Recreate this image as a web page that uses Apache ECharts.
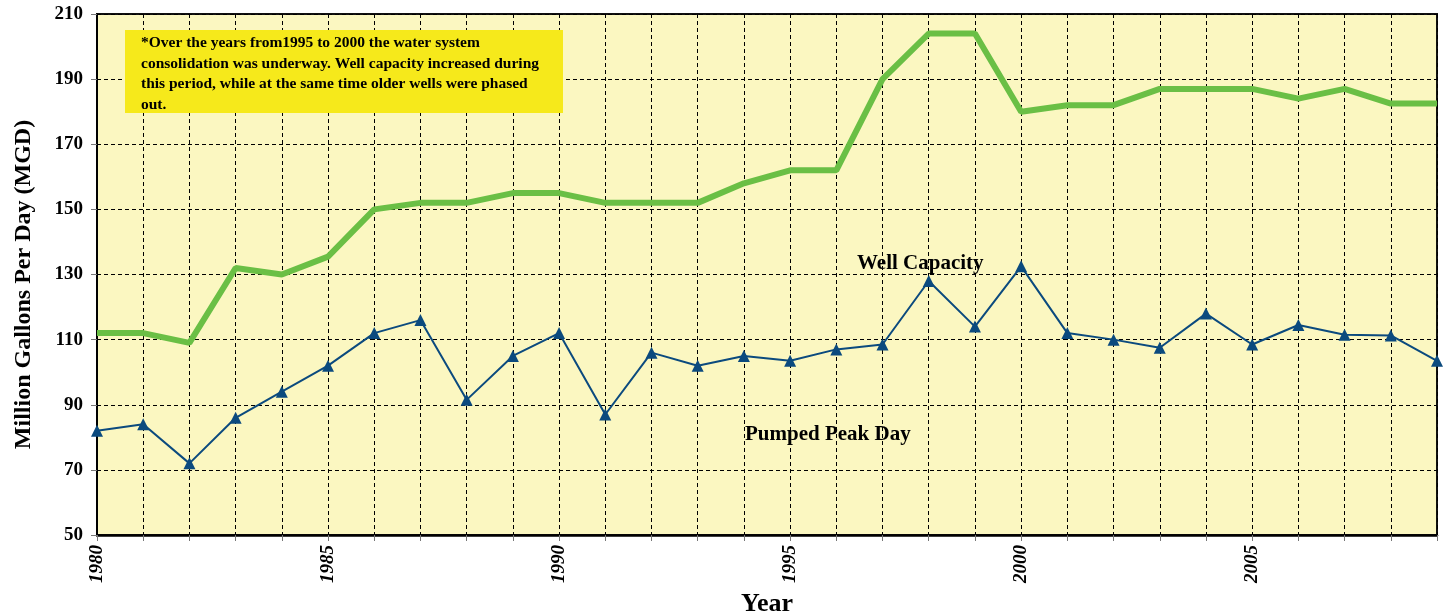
<!DOCTYPE html>
<html>
<head>
    <meta charset="utf-8">
    <title>Well Capacity vs Pumped Peak Day</title>
    <script src="https://cdn.jsdelivr.net/npm/echarts@6/dist/echarts.min.js"></script>
    <style>
        html, body { margin: 0; padding: 0; background: #fff; }
    </style>
</head>
<body>
    <div id="main" style="width: 1445px;height:615px;"></div>
    <script type="text/javascript">
        // data
        var years = ['1980','1981','1982','1983','1984','1985','1986','1987','1988','1989',
                     '1990','1991','1992','1993','1994','1995','1996','1997','1998','1999',
                     '2000','2001','2002','2003','2004','2005','2006','2007','2008','2009'];
        var wellCapacity = [112, 112, 109, 132, 130, 135.5, 150, 152, 152, 155,
                            155, 152, 152, 152, 158, 162, 162, 190, 204, 204,
                            180, 182, 182, 187, 187, 187, 184, 187, 182.5, 182.5];
        var pumpedPeakDay = [82, 84, 72, 86, 94, 102, 112, 116, 91.5, 105,
                             112, 87, 106, 102, 105, 103.5, 107, 108.5, 128, 114,
                             132.5, 112, 110, 107.5, 118, 108.5, 114.5, 111.5, 111.3, 103.5];
        var yTicks = [50, 70, 90, 110, 130, 150, 170, 190, 210];

        var noteLines = [
            '*Over the years from1995 to 2000 the water system',
            'consolidation was underway. Well capacity increased during',
            'this period, while at the same time older wells were phased',
            'out.'
        ];

        var serif = '"Liberation Serif", "DejaVu Serif", serif';
        var dash = { color: '#000', width: 1, type: [4, 3] };

        var myChart = echarts.init(document.getElementById('main'));

        var option = {
            animation: false,
            grid: {
                left: 97, right: 8, top: 14, bottom: 80,
                outerBoundsMode: 'none',
                containLabel: false,
                show: true,
                backgroundColor: '#FBF7C1',
                borderColor: '#111',
                borderWidth: 2
            },
            xAxis: {
                type: 'category',
                data: years,
                boundaryGap: false,
                name: 'Year',
                nameLocation: 'middle',
                nameGap: 50,
                nameTextStyle: { fontFamily: serif, fontWeight: 'bold', fontSize: 26, color: '#000' },
                axisLine: { lineStyle: { color: '#000', width: 2.5 } },
                axisTick: { interval: 0, length: 6, lineStyle: { color: '#777' } },
                axisLabel: {
                    rotate: 90,
                    margin: 10,
                    interval: function (index) { return index % 5 === 0; },
                    fontFamily: serif, fontWeight: 'bold', fontStyle: 'italic',
                    fontSize: 19, color: '#000'
                },
                splitLine: { show: true, interval: 0, lineStyle: dash }
            },
            yAxis: {
                type: 'value',
                min: yTicks[0],
                max: yTicks[yTicks.length - 1],
                interval: 20,
                name: 'Million Gallons Per Day (MGD)',
                nameLocation: 'middle',
                nameGap: 61,
                nameTextStyle: {
                    fontFamily: serif, fontWeight: 'bold', fontSize: 24, color: '#000',
                    padding: [0, 20, 0, 0]
                },
                axisLine: { show: true, lineStyle: { color: '#000', width: 2 } },
                axisTick: { show: true, length: 6, lineStyle: { color: '#777' } },
                axisLabel: { margin: 14, fontFamily: serif, fontWeight: 'bold', fontSize: 19, color: '#000' },
                splitLine: { show: true, lineStyle: dash }
            },
            series: [
                {
                    name: 'Well Capacity',
                    type: 'line',
                    data: wellCapacity,
                    showSymbol: false,
                    symbol: 'none',
                    lineStyle: { color: '#6ABF45', width: 6 },
                    z: 3
                },
                {
                    name: 'Pumped Peak Day',
                    type: 'line',
                    data: pumpedPeakDay,
                    symbol: 'triangle',
                    symbolSize: 12,
                    itemStyle: { color: '#0B4A7E' },
                    lineStyle: { color: '#0B4A7E', width: 2 },
                    z: 4
                }
            ],
            graphic: [
                {
                    type: 'rect',
                    left: 125, top: 30,
                    shape: { width: 438, height: 83 },
                    style: { fill: '#F6E91B' },
                    z: 10
                },
                {
                    type: 'text',
                    left: 141, top: 33,
                    style: {
                        text: noteLines.join('\n'),
                        font: 'bold 15.5px ' + serif,
                        lineHeight: 20.5,
                        fill: '#000'
                    },
                    z: 11
                },
                {
                    type: 'text',
                    left: 857, top: 253,
                    style: { text: 'Well Capacity', font: 'bold 21px ' + serif, fill: '#000' },
                    z: 11
                },
                {
                    type: 'text',
                    left: 745, top: 424,
                    style: { text: 'Pumped Peak Day', font: 'bold 21px ' + serif, fill: '#000' },
                    z: 11
                }
            ]
        };

        myChart.setOption(option);
    </script>
</body>
</html>
